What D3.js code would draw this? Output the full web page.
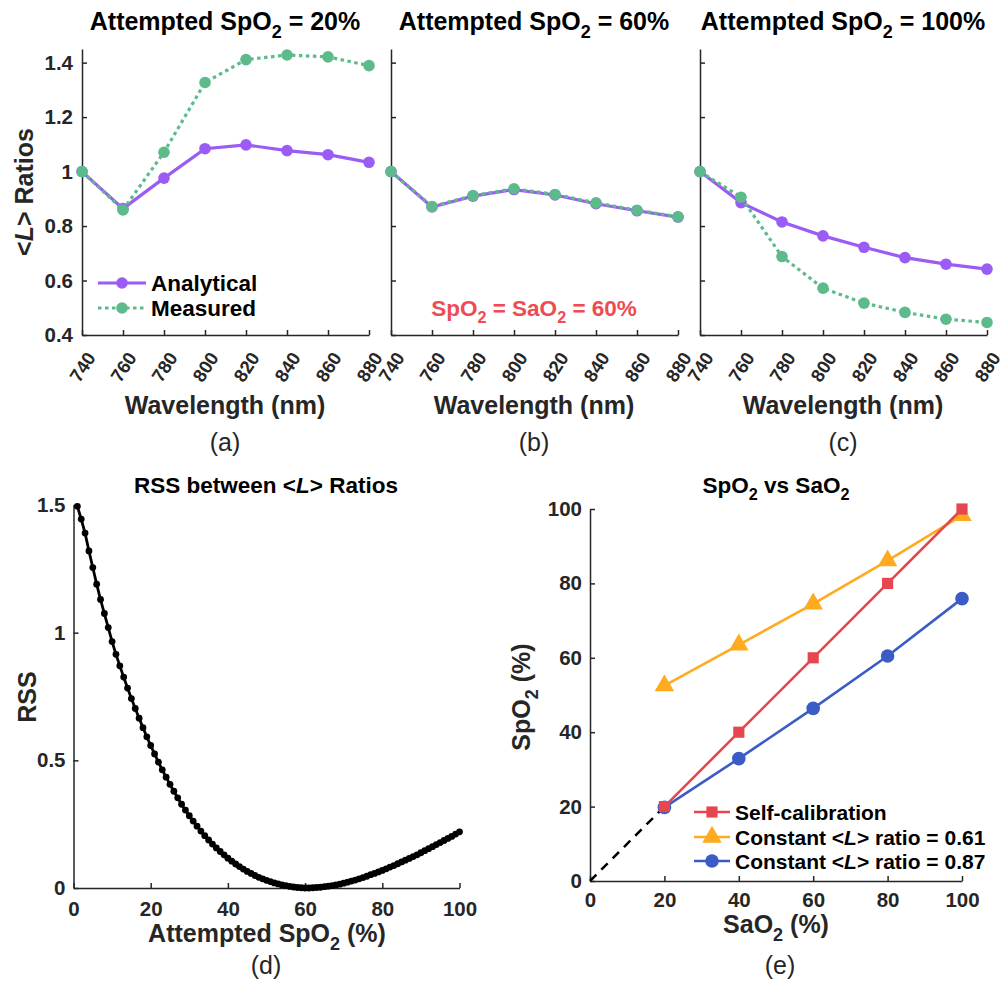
<!DOCTYPE html>
<html>
<head>
<meta charset="utf-8">
<script src="https://cdn.jsdelivr.net/npm/d3@7"></script>
<style>
  body { margin: 0; background: #fff; }
  svg text { font-family: "Liberation Sans", Arial, sans-serif; fill: #262626; }
</style>
</head>
<body>
<svg id="fig" width="1005" height="986"></svg>
<script>
// ---- data ----
const wavelengths = [740, 760, 780, 800, 820, 840, 860, 880];
const analytical20 = [1.0, 0.864, 0.976, 1.084, 1.098, 1.077, 1.062, 1.034];
const measured20 = [1.0, 0.859, 1.071, 1.327, 1.411, 1.428, 1.421, 1.389];
const analytical60 = [1.0, 0.870, 0.910, 0.934, 0.914, 0.882, 0.856, 0.833];
const measured60 = [1.0, 0.872, 0.912, 0.937, 0.916, 0.885, 0.858, 0.834];
const analytical100 = [1.0, 0.886, 0.815, 0.764, 0.722, 0.684, 0.660, 0.642];
const measured100 = [1.0, 0.906, 0.688, 0.572, 0.517, 0.483, 0.458, 0.446];
const ratioTicks = [0.4, 0.6, 0.8, 1.0, 1.2, 1.4];

const attempted = d3.range(1, 101);
const rss = [1.495, 1.445, 1.39, 1.32, 1.255, 1.19, 1.13, 1.075, 1.02, 0.965,
  0.915, 0.87, 0.826, 0.783, 0.742, 0.703, 0.665, 0.628, 0.592, 0.558,
  0.525, 0.493, 0.463, 0.434, 0.406, 0.379, 0.353, 0.328, 0.305, 0.283,
  0.262, 0.242, 0.223, 0.205, 0.188, 0.172, 0.157, 0.143, 0.130, 0.117,
  0.105, 0.094, 0.084, 0.074, 0.065, 0.057, 0.049, 0.042, 0.036, 0.030,
  0.025, 0.020, 0.016, 0.012, 0.009, 0.006, 0.004, 0.002, 0.001, 0.000,
  0.000, 0.001, 0.002, 0.003, 0.005, 0.007, 0.009, 0.012, 0.015, 0.019,
  0.023, 0.027, 0.031, 0.036, 0.041, 0.046, 0.052, 0.057, 0.063, 0.069,
  0.075, 0.082, 0.088, 0.095, 0.102, 0.109, 0.116, 0.123, 0.130, 0.138,
  0.146, 0.154, 0.162, 0.170, 0.178, 0.186, 0.194, 0.202, 0.211, 0.220];
const rssTicks = [0, 0.5, 1, 1.5];

const saO2 = [20, 40, 60, 80, 100];
const selfCal = [20, 40, 60, 80, 100];
const const061 = [52.5, 63.5, 74.5, 86.1, 98.3];
const const087 = [19.8, 32.9, 46.4, 60.5, 75.9];
const pctTicks = [0, 20, 40, 60, 80, 100];

const purple = "#9a5cf4", green = "#5dbb8b";
const red = "#e6474f", orange = "#ffaa1f", blue = "#3b5bc7";
const axisColor = "#262626";

const svg = d3.select("#fig");

// Write text made of parts: plain strings, {t, sub:true} or {t, it:true}
function rich(text, parts, size) {
  let shift = 0;
  parts.forEach(p => {
    if (typeof p === "string") p = {t: p};
    const ts = text.append("tspan").text(p.t);
    const want = p.sub ? size * 0.32 : 0;
    if (want != shift) { ts.attr("dy", want - shift); shift = want; }
    if (p.sub) ts.attr("font-size", size * 0.72);
    if (p.it) ts.attr("font-style", "italic");
  });
  return text;
}

function label(x, y, parts, size, opts) {
  opts = opts || {};
  const t = svg.append("text")
    .attr("x", x).attr("y", y)
    .attr("text-anchor", opts.anchor || "middle")
    .attr("font-size", size)
    .attr("font-weight", opts.normal ? "normal" : "bold");
  if (opts.fill) t.style("fill", opts.fill);
  if (opts.rotate) t.attr("transform", `rotate(-90,${x},${y})`);
  return rich(t, parts, size);
}

function styleAxis(g, size) {
  g.select(".domain").attr("stroke", axisColor).attr("stroke-width", 1.5);
  g.selectAll(".tick line").attr("stroke", axisColor).attr("stroke-width", 1.5);
  g.selectAll(".tick text").attr("font-size", size).attr("font-weight", "bold")
    .attr("font-family", "Liberation Sans, Arial, sans-serif").style("fill", axisColor);
}

// ---- top row: <L> ratio panels ----
function topPanel(x0, anal, meas, title, showY) {
  const x = d3.scaleLinear().domain([740, 880]).range([x0, x0 + 287]);
  const y = d3.scaleLinear().domain([0.4, 1.45]).range([335, 49]);

  const gx = svg.append("g").attr("transform", "translate(0,335)")
    .call(d3.axisBottom(x).tickValues(wavelengths).tickSizeInner(-5).tickSizeOuter(0)
      .tickFormat(d3.format("d")));
  styleAxis(gx, 18.5);
  gx.selectAll(".tick text")
    .attr("y", 0).attr("dy", "0.35em").attr("text-anchor", "middle")
    .attr("transform", "translate(0,32) rotate(-57)");

  const gy = svg.append("g").attr("transform", `translate(${x0},0)`)
    .call(d3.axisLeft(y).tickValues(ratioTicks).tickSizeInner(-5).tickSizeOuter(0)
      .tickPadding(9).tickFormat(d => showY ? String(d) : ""));
  styleAxis(gy, 20.5);

  const line = d3.line().x((d, i) => x(wavelengths[i])).y(d => y(d));
  svg.append("path").datum(anal).attr("d", line)
    .attr("fill", "none").attr("stroke", purple).attr("stroke-width", 3.2);
  svg.append("g").selectAll("circle").data(anal).join("circle")
    .attr("cx", (d, i) => x(wavelengths[i])).attr("cy", d => y(d)).attr("r", 5.8)
    .attr("fill", purple);
  svg.append("path").datum(meas).attr("d", line)
    .attr("fill", "none").attr("stroke", green).attr("stroke-width", 3.2)
    .attr("stroke-dasharray", "3.5,3.5");
  svg.append("g").selectAll("circle").data(meas).join("circle")
    .attr("cx", (d, i) => x(wavelengths[i])).attr("cy", d => y(d)).attr("r", 5.8)
    .attr("fill", green);

  const cx = x0 + 143;
  label(cx, 30, title, 25).style("fill", "#000");
  label(cx, 414, ["Wavelength (nm)"], 25);
  return cx;
}

const ca = topPanel(82, analytical20, measured20,
  ["Attempted SpO", {t: "2", sub: true}, " = 20%"], true);
const cb = topPanel(391, analytical60, measured60,
  ["Attempted SpO", {t: "2", sub: true}, " = 60%"], false);
const cc = topPanel(700, analytical100, measured100,
  ["Attempted SpO", {t: "2", sub: true}, " = 100%"], false);

label(ca, 451, ["(a)"], 25, {normal: true});
label(cb, 451, ["(b)"], 25, {normal: true});
label(cc, 451, ["(c)"], 25, {normal: true});

label(33, 192, ["<", {t: "L", it: true}, "> Ratios"], 25, {rotate: true});

// legend for panel (a)
const legA = [{name: "Analytical", color: purple, dash: null, y: 283},
              {name: "Measured", color: green, dash: "3.5,3.5", y: 308}];
legA.forEach(d => {
  svg.append("line").attr("x1", 98).attr("x2", 146).attr("y1", d.y).attr("y2", d.y)
    .attr("stroke", d.color).attr("stroke-width", 3.2).attr("stroke-dasharray", d.dash);
  svg.append("circle").attr("cx", 122).attr("cy", d.y).attr("r", 5.8).attr("fill", d.color);
  label(151, d.y + 8, [d.name], 22.5, {anchor: "start"}).style("fill", "#000");
});

// annotation in panel (b)
label(cb, 316, ["SpO", {t: "2", sub: true}, " = SaO", {t: "2", sub: true}, " = 60%"], 22.5,
  {fill: "#ee4b52"});

// ---- panel (d): RSS ----
{
  const x = d3.scaleLinear().domain([0, 100]).range([73.5, 459.5]);
  const y = d3.scaleLinear().domain([0, 1.5]).range([888, 505]);
  const gx = svg.append("g").attr("transform", "translate(0,888)")
    .call(d3.axisBottom(x).tickValues(pctTicks).tickSizeInner(-5).tickSizeOuter(0)
      .tickPadding(13).tickFormat(d3.format("d")));
  styleAxis(gx, 20.5);
  const gy = svg.append("g").attr("transform", "translate(73.5,0)")
    .call(d3.axisLeft(y).tickValues(rssTicks).tickSizeInner(-5).tickSizeOuter(0)
      .tickPadding(8).tickFormat(d => String(d)));
  styleAxis(gy, 20.5);

  const line = d3.line().x((d, i) => x(attempted[i])).y(d => y(d));
  svg.append("path").datum(rss).attr("d", line)
    .attr("fill", "none").attr("stroke", "#000").attr("stroke-width", 2.8);
  svg.append("g").selectAll("circle").data(rss).join("circle")
    .attr("cx", (d, i) => x(attempted[i])).attr("cy", d => y(d)).attr("r", 3.4)
    .attr("fill", "#000");

  label(266, 493, ["RSS between <", {t: "L", it: true}, "> Ratios"], 22.5).style("fill", "#000");
  label(36, 697, ["RSS"], 25, {rotate: true});
  label(267, 942, ["Attempted SpO", {t: "2", sub: true}, " (%)"], 25);
  label(266, 974, ["(d)"], 25, {normal: true});
}

// ---- panel (e): SpO2 vs SaO2 ----
{
  const x = d3.scaleLinear().domain([0, 100]).range([590, 962]);
  const y = d3.scaleLinear().domain([0, 100]).range([881, 509]);
  const gx = svg.append("g").attr("transform", "translate(0,881)")
    .call(d3.axisBottom(x).tickValues(pctTicks).tickSizeInner(-5).tickSizeOuter(0)
      .tickPadding(11).tickFormat(d3.format("d")));
  styleAxis(gx, 20.5);
  const gy = svg.append("g").attr("transform", "translate(590,0)")
    .call(d3.axisLeft(y).tickValues(pctTicks).tickSizeInner(-5).tickSizeOuter(0)
      .tickPadding(8).tickFormat(d3.format("d")));
  styleAxis(gy, 20.5);

  // identity reference from origin to first point
  svg.append("line").attr("x1", x(0)).attr("y1", y(0)).attr("x2", x(saO2[0])).attr("y2", y(selfCal[0]))
    .attr("stroke", "#000").attr("stroke-width", 2.5).attr("stroke-dasharray", "9,7");

  const sym = {
    square: d3.symbol(d3.symbolSquare, 125),
    triangle: d3.symbol(d3.symbolTriangle, 165),
    circle: d3.symbol(d3.symbolCircle, 145)
  };
  const series = [
    {name: "Constant <L> ratio = 0.61", vals: const061, color: orange, shape: "triangle"},
    {name: "Constant <L> ratio = 0.87", vals: const087, color: blue, shape: "circle"},
    {name: "Self-calibration", vals: selfCal, color: red, shape: "square"}
  ];
  const line = d3.line().x((d, i) => x(saO2[i])).y(d => y(d));
  series.forEach(s => {
    svg.append("path").datum(s.vals).attr("d", line)
      .attr("fill", "none").attr("stroke", s.color).attr("stroke-width", 2.6);
    svg.append("g").selectAll("path").data(s.vals).join("path")
      .attr("d", sym[s.shape])
      .attr("transform", (d, i) => `translate(${x(saO2[i])},${y(d)})`)
      .attr("fill", s.color);
  });

  // legend
  const legE = [{s: series[2], y: 812, parts: ["Self-calibration"]},
                {s: series[0], y: 837, parts: ["Constant <", {t: "L", it: true}, "> ratio = 0.61"]},
                {s: series[1], y: 861, parts: ["Constant <", {t: "L", it: true}, "> ratio = 0.87"]}];
  legE.forEach(d => {
    svg.append("line").attr("x1", 694).attr("x2", 730).attr("y1", d.y).attr("y2", d.y)
      .attr("stroke", d.s.color).attr("stroke-width", 2.6);
    svg.append("path").attr("d", sym[d.s.shape]).attr("transform", `translate(712,${d.y})`)
      .attr("fill", d.s.color);
    label(735, d.y + 7.5, d.parts, 21, {anchor: "start"}).style("fill", "#000");
  });

  label(776, 493, ["SpO", {t: "2", sub: true}, " vs SaO", {t: "2", sub: true}], 22.5).style("fill", "#000");
  label(530, 697, ["SpO", {t: "2", sub: true}, " (%)"], 25, {rotate: true});
  label(776, 933, ["SaO", {t: "2", sub: true}, " (%)"], 25);
  label(780, 974, ["(e)"], 25, {normal: true});
}
</script>
</body>
</html>
